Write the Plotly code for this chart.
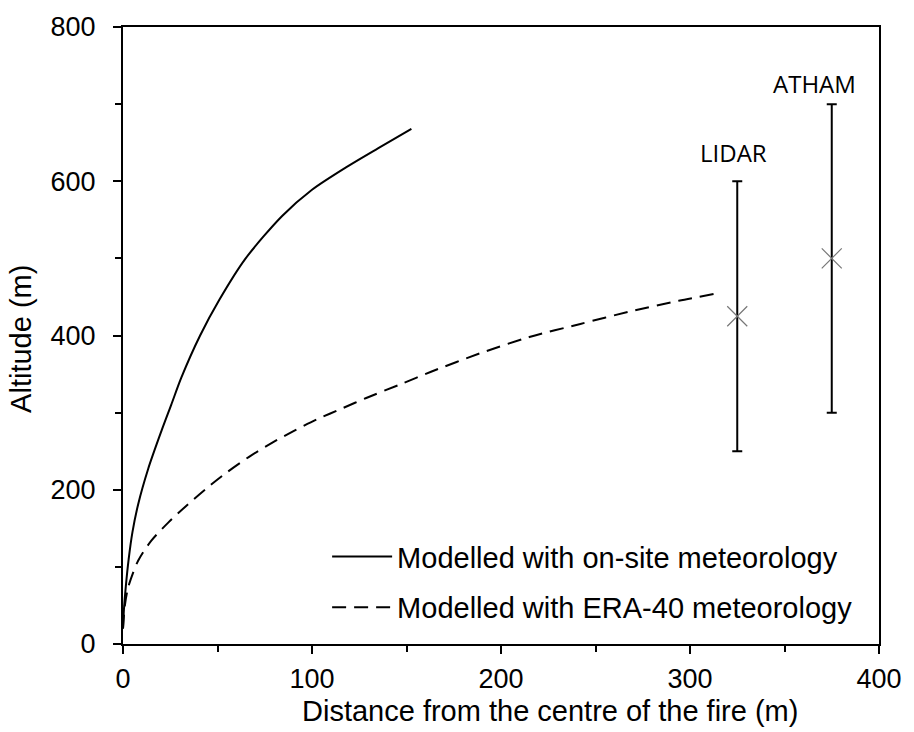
import plotly.graph_objects as go

# Modelled plume trajectories (distance m, altitude m)
onsite_x = [0, 0.5, 1.5, 3, 5, 8, 13.3, 20.3, 25.5, 30.8, 40.8, 50.9, 64.9, 84.2, 100, 119.3, 135.1, 152.6]
onsite_y = [20, 45, 75, 110, 145, 181, 227, 276, 310, 345, 400, 446, 500, 555, 589, 620, 643, 668]

era_x = [0, 1, 2.8, 8, 15, 23.8, 34.3, 44.8, 55.2, 67.5, 79.7, 90.2, 102.4, 116.4, 128.7, 146,
         163, 189, 215, 242, 268, 294, 313]
era_y = [20, 50, 74, 108, 134, 157, 181, 203, 223, 244, 262, 276, 291, 306, 319, 336,
         353, 377, 398, 415, 431, 445, 454]

# Observations / ATHAM: centre with range
obs_names = ["LIDAR", "ATHAM"]
obs_x = [325, 375]
obs_y = [425, 500]
obs_low = [250, 300]
obs_high = [600, 700]
label_x = [323, 366]
label_y = [637, 727]

FONT = "Arial, Liberation Sans, sans-serif"
FS = 27
FT = 29

fig = go.Figure()
fig.add_trace(go.Scatter(x=onsite_x, y=onsite_y, mode="lines",
                         line=dict(color="black", width=2, shape="spline", smoothing=0.8),
                         name="Modelled with on-site meteorology", legendgroup="a"))
fig.add_trace(go.Scatter(x=era_x, y=era_y, mode="lines",
                         line=dict(color="black", width=2, dash="14px,8px", shape="spline", smoothing=0.8),
                         name="Modelled with ERA-40 meteorology", legendgroup="b"))
fig.add_trace(go.Scatter(
    x=obs_x, y=obs_y, mode="markers", showlegend=False,
    marker=dict(symbol="x-thin", size=20, line=dict(color="#777777", width=1.2)),
    error_y=dict(type="data", symmetric=False,
                 array=[h - c for h, c in zip(obs_high, obs_y)],
                 arrayminus=[c - l for c, l in zip(obs_y, obs_low)],
                 color="black", thickness=2, width=5)))

for nm, lx, ly in zip(obs_names, label_x, label_y):
    fig.add_annotation(x=lx, y=ly, text=nm, showarrow=False,
                       xanchor="center", yanchor="middle",
                       font=dict(family="Open Sans, sans-serif", size=24, color="black"))

# axis titles
fig.add_annotation(xref="paper", yref="paper", x=0.565, y=-0.108, yanchor="middle",
                   text="Distance from the centre of the fire (m)", showarrow=False,
                   font=dict(family=FONT, size=FT, color="black"))
fig.add_annotation(xref="paper", yref="paper", x=-0.134, y=0.494, textangle=-90,
                   xanchor="center", yanchor="middle",
                   text="Altitude (m)", showarrow=False,
                   font=dict(family=FONT, size=FT, color="black"))

axis_common = dict(showline=True, linecolor="black", linewidth=2, mirror=True,
                   showgrid=False, zeroline=False, ticks="outside", tickcolor="black",
                   tickwidth=2, ticklen=8,
                   tickfont=dict(family=FONT, size=FS, color="black"))

fig.update_xaxes(range=[0, 400], dtick=100, tick0=0, ticklabelstandoff=2,
                 minor=dict(dtick=50, ticks="outside", ticklen=6, tickcolor="black", tickwidth=2),
                 **axis_common)
fig.update_yaxes(range=[0, 800], dtick=200, tick0=0, ticklabelstandoff=12,
                 minor=dict(dtick=100, ticks="outside", ticklen=6, tickcolor="black", tickwidth=2),
                 **axis_common)

fig.update_layout(
    width=914, height=732,
    margin=dict(l=123, r=29, t=23, b=88),
    paper_bgcolor="white", plot_bgcolor="white",
    showlegend=True,
    legend=dict(x=0.27, y=0.183, xanchor="left", yanchor="top",
                bgcolor="rgba(0,0,0,0)", borderwidth=0,
                font=dict(family=FONT, size=FT, color="black"),
                itemwidth=60, tracegroupgap=10),
)

fig.write_html("out.html")
